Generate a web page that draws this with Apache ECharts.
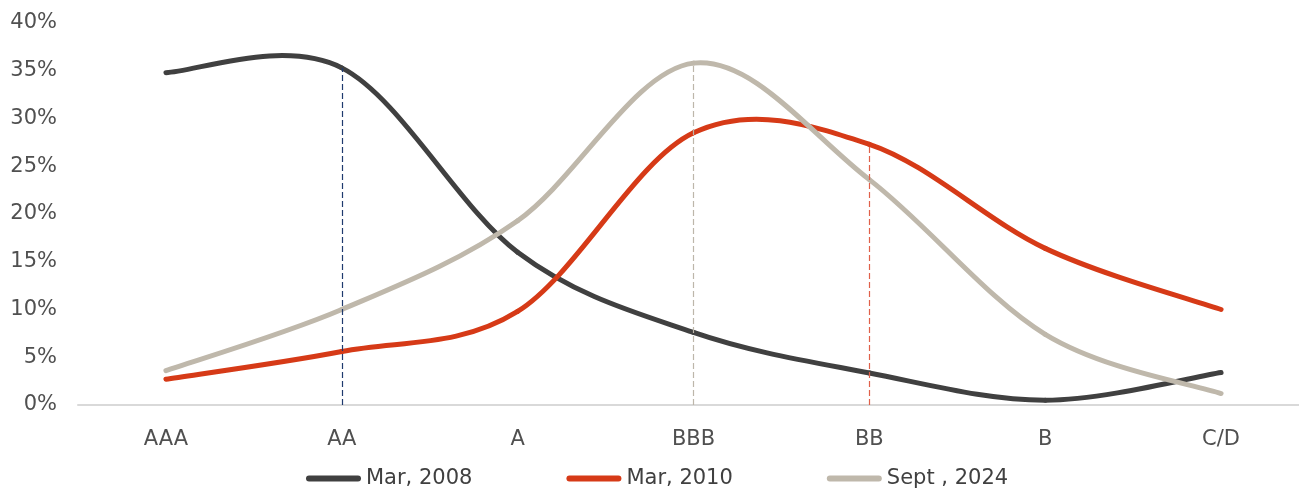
<!DOCTYPE html>
<html>
<head>
<meta charset="utf-8">
<script src="https://cdn.jsdelivr.net/npm/echarts@6/dist/echarts.min.js"></script>
<style>html,body{margin:0;padding:0;background:#fff;overflow:hidden}#c{width:1312px;height:491px}</style>
</head>
<body>
<div id="c"></div>
<script>
const categories = ['AAA', 'AA', 'A', 'BBB', 'BB', 'B', 'C/D'];
const seriesNames = ['Mar, 2008', 'Mar, 2010', 'Sept , 2024'];
const mar2008 = [34.8, 35.3, 16.0, 7.6, 3.35, 0.5, 3.4];
const mar2010 = [2.7, 5.6, 9.8, 28.5, 27.3, 16.4, 10.0];
const sept2024 = [3.6, 10.0, 19.3, 35.8, 23.6, 7.4, 1.2];
const yTicks = [0, 5, 10, 15, 20, 25, 30, 35, 40];
// drop lines: category and which series it marks
const dropCats = ['AA', 'BBB', 'BB'];
const dropSeries = [mar2008, sept2024, mar2010];

const colors = ['#404040', '#d63a17', '#bfb8ab'];
const dropColors = ['#1f3a6e', '#bdb6aa', '#e0604a'];
const FONT = 'DejaVu Sans';

const chart = echarts.init(document.getElementById('c'));

const dropSeriesList = dropCats.map((cat, i) => ({
  type: 'line', data: [], z: 1, silent: true,
  markLine: {
    silent: true, symbol: 'none', animation: false,
    label: {show: false},
    lineStyle: {color: dropColors[i], width: 1.2, type: [6, 3]},
    data: [[{coord: [cat, 0]}, {coord: [cat, dropSeries[i][categories.indexOf(cat)]]}]]
  }
}));

// Smooth (Catmull-Rom style, like spreadsheet smoothing) segment renderer
function makeRender(values, color) {
  return function (params, api) {
    const i = params.dataIndex;
    const n = values.length;
    if (i >= n - 1) return null;
    const pt = k => api.coord([Math.max(0, Math.min(n - 1, k)), values[Math.max(0, Math.min(n - 1, k))]]);
    const p0 = pt(i - 1), p1 = pt(i), p2 = pt(i + 1), p3 = pt(i + 2);
    const c1 = [p1[0] + (p2[0] - p0[0]) / 6, p1[1] + (p2[1] - p0[1]) / 6];
    const c2 = [p2[0] - (p3[0] - p1[0]) / 6, p2[1] - (p3[1] - p1[1]) / 6];
    return {
      type: 'bezierCurve',
      shape: {x1: p1[0], y1: p1[1], cpx1: c1[0], cpy1: c1[1], cpx2: c2[0], cpy2: c2[1], x2: p2[0], y2: p2[1]},
      style: {stroke: color, lineWidth: 5, lineCap: 'round', fill: null}
    };
  };
}

const mainSeries = [mar2008, mar2010, sept2024].map((d, i) => ({
  name: seriesNames[i], type: 'custom', z: 2 + i,
  color: colors[i], itemStyle: {color: colors[i]},
  renderItem: makeRender(d, colors[i]),
  data: d.map((v, k) => [k, v]),
  encode: {x: 0, y: 1}
}));

const capsule = 'path://M3,0 H52 A3,3 0 0 1 52,6 H3 A3,3 0 0 1 3,0 Z';

chart.setOption({
  animation: false,
  grid: {left: 78, top: 23, width: 1231, height: 382},
  legend: {
    data: seriesNames.map(n => ({name: n, icon: capsule})), left: 306, bottom: 2, padding: 0,
    itemWidth: 55, itemHeight: 6, itemGap: 94,
    textStyle: {fontFamily: FONT, fontSize: 21, color: '#404040'}
  },
  xAxis: {
    type: 'category', data: categories, boundaryGap: true,
    axisLine: {lineStyle: {color: '#d9d9d9', width: 2}},
    axisTick: {show: false},
    axisLabel: {fontFamily: FONT, fontSize: 21, color: '#505050', margin: 24}
  },
  yAxis: {
    type: 'value', min: 0, max: 40, interval: 5,
    splitLine: {show: false},
    axisLine: {show: false}, axisTick: {show: false},
    axisLabel: {fontFamily: FONT, fontSize: 21, color: '#505050', margin: 21,
      formatter: v => yTicks.includes(v) ? v + '%' : ''}
  },
  series: dropSeriesList.concat(mainSeries)
});
</script>
</body>
</html>
